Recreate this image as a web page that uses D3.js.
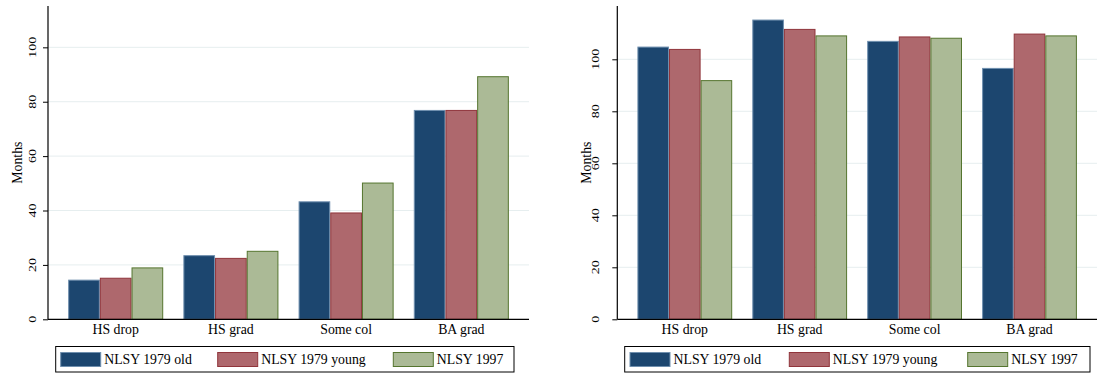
<!DOCTYPE html>
<html>
<head>
<meta charset="utf-8">
<script src="https://cdn.jsdelivr.net/npm/d3@7"></script>
<style>
  html, body { margin: 0; padding: 0; background: #ffffff; }
  svg { display: block; }
  text { font-family: "Liberation Serif", "Times New Roman", serif; fill: #000; }
</style>
</head>
<body>
<svg id="chart" width="1097" height="374"></svg>
<script>
// ---- data ----
const categories = ["HS drop", "HS grad", "Some col", "BA grad"];
const seriesNames = ["NLSY 1979 old", "NLSY 1979 young", "NLSY 1997"];
const yTicks = [0, 20, 40, 60, 80, 100];
const yTitle = "Months";

const leftOld    = [14.4, 23.4, 43.2, 76.8];
const leftYoung  = [15.1, 22.4, 39.1, 76.8];
const left1997   = [18.9, 25.0, 50.1, 89.2];

const rightOld   = [104.7, 115.1, 106.9, 96.5];
const rightYoung = [103.8, 111.5, 108.6, 109.7];
const right1997  = [91.8, 109.0, 108.1, 109.0];

// ---- styles ----
const fills   = ["#1c466f", "#ae686d", "#abba96"];
const strokes = ["#6f8fae", "#90353b", "#55752f"];

const svg = d3.select("#chart");

function drawPanel(cfg) {
  const values = cfg.values;
  const g = svg.append("g");

  const y = d3.scaleLinear().domain([0, cfg.yMax]).range([cfg.baseline, cfg.top]);
  const x0 = d3.scaleBand().domain(categories).range([cfg.axisX, cfg.plotRight]).padding(0.175);
  const x1 = d3.scaleBand().domain(d3.range(seriesNames.length)).range([0, x0.bandwidth()]).padding(0);

  // gridlines
  g.append("g").selectAll("line").data(yTicks.filter(d => d > 0)).join("line")
    .attr("x1", cfg.axisX).attr("x2", cfg.plotRight)
    .attr("y1", d => y(d)).attr("y2", d => y(d))
    .attr("stroke", "#e6eeef").attr("stroke-width", 1);

  // bars
  const rows = [];
  categories.forEach((c, ci) => {
    values.forEach((s, si) => rows.push({ c, si, v: s[ci] }));
  });
  g.append("g").selectAll("rect").data(rows).join("rect")
    .attr("x", d => x0(d.c) + x1(d.si) + 0.5)
    .attr("width", x1.bandwidth() - 1)
    .attr("y", d => y(d.v))
    .attr("height", d => y(0) - y(d.v))
    .attr("fill", d => fills[d.si])
    .attr("stroke", d => strokes[d.si])
    .attr("stroke-width", 1);

  // y axis
  const yAxis = d3.axisLeft(y).tickValues(yTicks).tickSize(5).tickFormat(d3.format("d"));
  const ya = g.append("g").attr("transform", `translate(${cfg.axisX},0)`).call(yAxis);
  ya.select(".domain").remove();
  ya.selectAll(".tick line").attr("stroke", "#000");
  ya.selectAll(".tick text").remove();
  ya.append("line").attr("x1", 0).attr("x2", 0).attr("y1", cfg.top).attr("y2", cfg.baseline)
    .attr("stroke", "#000").attr("stroke-width", 1.2);
  // rotated tick labels (slightly condensed in thickness, as in the reference)
  g.append("g").selectAll("text").data(yTicks).join("text")
    .attr("transform", d => `translate(${cfg.tickLabelX},${y(d)}) rotate(-90) scale(1,0.8)`)
    .attr("text-anchor", "middle")
    .attr("font-size", 14)
    .text(d => d);
  // y title
  g.append("text")
    .attr("transform", `translate(${cfg.titleX},${(cfg.top + cfg.baseline) / 2}) rotate(-90)`)
    .attr("text-anchor", "middle").attr("font-size", 13.8)
    .text(yTitle);

  // x axis
  const xAxis = d3.axisBottom(x0).tickSize(0).tickPadding(0);
  const xa = g.append("g").attr("transform", `translate(0,${cfg.baseline})`).call(xAxis);
  xa.select(".domain").remove();
  xa.selectAll(".tick text").attr("dy", null).attr("y", 15).attr("font-size", 13.8)
    .style("font-family", '"Liberation Serif", serif');
  xa.append("line").attr("x1", cfg.axisX).attr("x2", cfg.plotRight).attr("y1", 0).attr("y2", 0)
    .attr("stroke", "#000").attr("stroke-width", 1.2);

  // legend
  const lg = g.append("g");
  lg.append("rect").attr("x", cfg.legendX).attr("y", 346.5)
    .attr("width", cfg.legendW).attr("height", 25.5)
    .attr("fill", "#fff").attr("stroke", "#000").attr("stroke-width", 1);
  seriesNames.forEach((name, i) => {
    const sx = cfg.legendX + cfg.legendOffsets[i];
    lg.append("rect").attr("x", sx).attr("y", 352.5).attr("width", 40).attr("height", 14)
      .attr("fill", fills[i]).attr("stroke", strokes[i]).attr("stroke-width", 1);
    lg.append("text").attr("x", sx + 43.5).attr("y", 364).attr("font-size", 13.8).text(name);
  });
}

drawPanel({
  values: [leftOld, leftYoung, left1997],
  axisX: 48, plotRight: 529, top: 6, baseline: 319.3, yMax: 115.2,
  tickLabelX: 36, titleX: 21.7,
  legendX: 55.7, legendW: 458.3, legendOffsets: [5, 162, 337.6]
});

drawPanel({
  values: [rightOld, rightYoung, right1997],
  axisX: 617.3, plotRight: 1097, top: 6, baseline: 319.3, yMax: 120.5,
  tickLabelX: 598.5, titleX: 591,
  legendX: 624.7, legendW: 465.3, legendOffsets: [5.3, 164.6, 343]
});
</script>
</body>
</html>
